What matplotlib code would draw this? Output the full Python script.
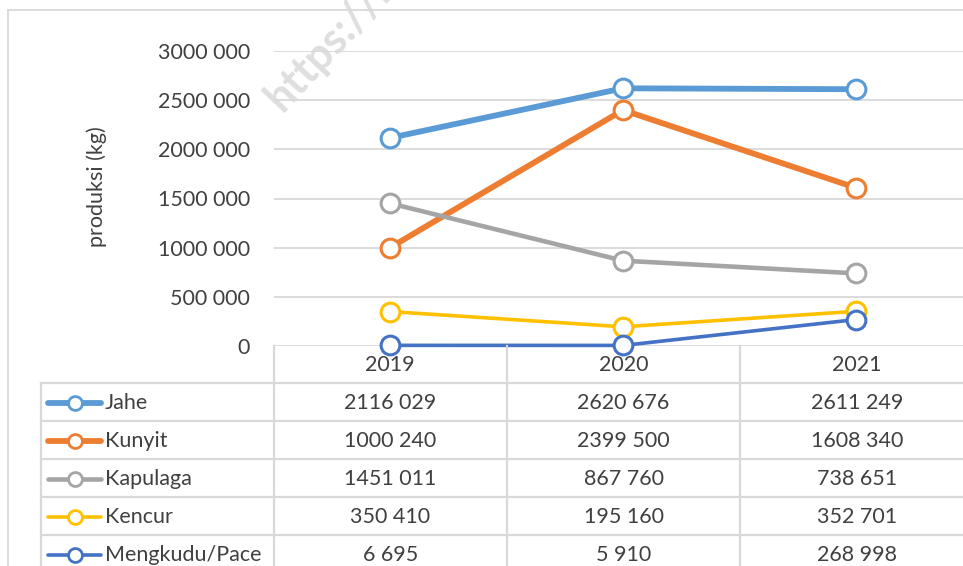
import matplotlib
matplotlib.use("Agg")
import matplotlib.pyplot as plt
from matplotlib.lines import Line2D

plt.rcParams['font.family'] = ['Lato', 'DejaVu Sans']

# data
years = ["2019", "2020", "2021"]
jahe = [2116029, 2620676, 2611249]
kunyit = [1000240, 2399500, 1608340]
kapulaga = [1451011, 867760, 738651]
kencur = [350410, 195160, 352701]
mengkudu = [6695, 5910, 268998]
series_names = ["Jahe", "Kunyit", "Kapulaga", "Kencur", "Mengkudu/Pace"]
yticks = [0, 500000, 1000000, 1500000, 2000000, 2500000, 3000000]

series_vals = [jahe, kunyit, kapulaga, kencur, mengkudu]
colors = ["#5B9BD5", "#ED7D31", "#A5A5A5", "#FFC000", "#4472C4"]
widths = [4.2, 4.2, 3.3, 2.6, 2.6]

W, H = 963, 566
fig = plt.figure(figsize=(W / 100, H / 100), dpi=100)

def fx(px):
    return px / W

def fy(py):
    return 1 - py / H

def fmt(v):
    # Excel-style "# ##0": only the last group is split off
    if v < 1000:
        return str(v)
    return f"{v // 1000} {v % 1000:03d}"

grid_c = "#D9D9D9"
text_c = "#404040"
fs = 15.5

# plot area (extends past the right edge like the original)
left, right, top, bottom = 273.5, 972.5, 51, 346
ax = fig.add_axes([fx(left), fy(bottom), fx(right - left), (bottom - top) / H])
ax.set_xlim(-0.5, 2.5)
ax.set_ylim(0, 3000000)
ax.set_yticks(yticks)
ax.set_yticklabels([fmt(v) for v in yticks], fontsize=fs, color=text_c)
ax.tick_params(axis="y", length=0, pad=17)
ax.set_xticks([])
for s in ax.spines.values():
    s.set_visible(False)
ax.grid(axis="y", color=grid_c, linewidth=1.3)
ax.set_axisbelow(True)
ax.patch.set_alpha(0)

x = range(len(years))
for vals, c, lw in zip(series_vals, colors, widths):
    ax.plot(x, vals, color=c, linewidth=lw, marker="o", markersize=13.5,
            markerfacecolor="white", markeredgecolor=c, markeredgewidth=2.2,
            solid_capstyle="round", zorder=3, clip_on=False)

fig.text(fx(97), fy(187), "produksi (kg)", rotation=90, ha="center", va="center",
         fontsize=fs, color=text_c)

# data table
col_edges = [41, 273.5, 507, 740, 973.5]
row_edges = [346, 383, 421, 459, 497, 535, 573]
lw_t = 1.6
for cx in col_edges[1:]:
    fig.add_artist(Line2D([fx(cx), fx(cx)], [fy(346), fy(566)], color=grid_c, lw=lw_t))
fig.add_artist(Line2D([fx(41), fx(41)], [fy(383), fy(566)], color=grid_c, lw=lw_t))
for ry in row_edges[1:-1]:
    fig.add_artist(Line2D([fx(41), fx(963)], [fy(ry), fy(ry)], color=grid_c, lw=lw_t))

for j, yr in enumerate(years):
    cx = (col_edges[j + 1] + col_edges[j + 2]) / 2
    fig.text(fx(cx), fy(365), yr, ha="center", va="center", fontsize=fs, color=text_c)

for i, (name, vals, c, lw) in enumerate(zip(series_names, series_vals, colors, widths)):
    cy = (row_edges[i + 1] + row_edges[i + 2]) / 2 + 1
    fig.add_artist(Line2D([fx(48), fx(101)], [fy(cy), fy(cy)], color=c, lw=lw,
                          solid_capstyle="round"))
    fig.add_artist(Line2D([fx(75)], [fy(cy)], marker="o", markersize=10,
                          markerfacecolor="white", markeredgecolor=c, markeredgewidth=2))
    fig.text(fx(105), fy(cy), name, ha="left", va="center", fontsize=fs, color=text_c)
    for j, v in enumerate(vals):
        cx = (col_edges[j + 1] + col_edges[j + 2]) / 2
        fig.text(fx(cx), fy(cy), fmt(v), ha="center", va="center", fontsize=fs, color=text_c)

# chart frame
fig.add_artist(Line2D([fx(8), fx(8)], [fy(10), fy(566)], color=grid_c, lw=1.3))
fig.add_artist(Line2D([fx(8), fx(963)], [fy(10), fy(10)], color=grid_c, lw=1.3))

# watermark
fig.text(fx(258), fy(118), "https://h", rotation=47, ha="left", va="bottom",
         fontsize=31, fontweight="bold", color="#D9D9D9", alpha=0.85, zorder=10)

fig.savefig("out.png", dpi=100)
